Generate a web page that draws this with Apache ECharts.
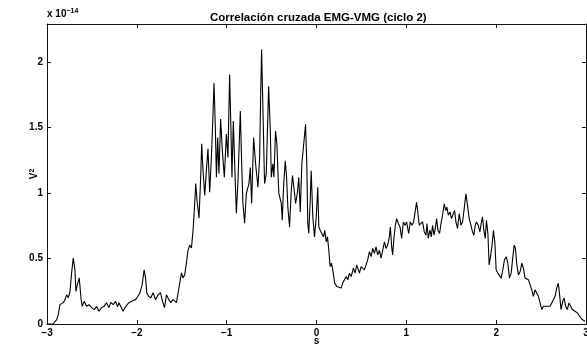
<!DOCTYPE html>
<html>
<head>
<meta charset="utf-8">
<script src="https://cdn.jsdelivr.net/npm/echarts@6/dist/echarts.min.js"></script>
<style>html,body{margin:0;padding:0;background:#fff}#c{width:587px;height:346px}</style>
</head>
<body>
<div id="c"></div>
<script>
// values in units of 1e-14 V^2, x in seconds
var xTicks = [-3, -2, -1, 0, 1, 2, 3];
var yTicks = [0, 0.5, 1, 1.5, 2];
var segA = [[-3.0,0],[-2.989,0],[-2.933,0],[-2.892,0.034],[-2.874,0.072],[-2.856,0.148],[-2.819,0.163],[-2.800,0.186],[-2.781,0.223],[-2.763,0.20],[-2.744,0.248],
  [-2.726,0.39],[-2.708,0.504],[-2.689,0.413],[-2.678,0.248],[-2.663,0.299],[-2.641,0.352],[-2.622,0.20],[-2.608,0.135],[-2.586,0.173],[-2.559,0.135],
  [-2.533,0.148],[-2.503,0.125],[-2.474,0.11],[-2.448,0.133],[-2.422,0.097],[-2.392,0.125],[-2.363,0.135],[-2.337,0.163],[-2.311,0.125],[-2.289,0.165],
  [-2.263,0.148],[-2.237,0.173],[-2.214,0.133],[-2.200,0.163],[-2.178,0.173],[-2.152,0.097],[-2.133,0.125],[-2.114,0.14],[-2.089,0.163],[-2.067,0.148],
  [-2.041,0.18],[-2.014,0.186],[-1.992,0.208],[-1.967,0.236],[-1.941,0.299],[-1.919,0.413],[-1.903,0.352],[-1.889,0.236],[-1.867,0.21],[-1.844,0.20],
  [-1.819,0.239],[-1.792,0.186],[-1.763,0.223]];
var segB = [[-1.737,0.239],[-1.714,0.173],[-1.692,0.125],[-1.670,0.223],[-1.644,0.186],[-1.622,0.163],[-1.597,0.186],[-1.559,0.163],[-1.537,0.173],[-1.522,0.314],
  [-1.503,0.39],[-1.486,0.352],[-1.467,0.375],[-1.448,0.466],[-1.430,0.564],[-1.411,0.602],[-1.392,0.58],[-1.374,0.716],[-1.356,0.92],[-1.344,1.072],
  [-1.330,0.943],[-1.308,0.807],[-1.289,1.12],[-1.278,1.375],[-1.263,1.17],[-1.244,0.981],[-1.226,1.17],[-1.208,1.337],[-1.189,1.006],[-1.170,1.271],
  [-1.152,1.602],[-1.141,1.84],[-1.126,1.498],[-1.114,1.12],[-1.100,1.423],[-1.086,1.148],[-1.067,1.564],[-1.048,1.322],[-1.026,1.12],[-1.003,1.451],
  [-0.986,1.271],[-0.967,1.905],[-0.952,1.473],[-0.941,1.12],[-0.926,1.549],[-0.911,1.223],[-0.892,0.845],[-0.874,1.095],[-0.848,1.625],[-0.833,1.223],
  [-0.819,0.92],[-0.800,0.769],[-0.781,0.996],[-0.752,1.072],[-0.737,1.195],[-0.722,0.92],[-0.700,1.423],[-0.678,1.223],[-0.652,1.044],[-0.633,1.271],
  [-0.622,1.726],[-0.611,2.095]];
var segC = [[-0.578,1.072],[-0.559,1.148],[-0.533,1.814],[-0.514,1.473],[-0.503,1.12],[-0.486,1.223],[-0.474,1.12],[-0.456,1.473],[-0.441,1.375],[-0.430,1.17],
  [-0.419,0.996],[-0.403,0.996],[-0.392,0.92],[-0.381,0.792],[-0.367,1.044],[-0.348,1.246],[-0.333,1.12],[-0.319,0.892],[-0.300,0.741],[-0.281,1.019],
  [-0.267,1.133],[-0.248,1.019],[-0.233,0.92],[-0.214,0.996],[-0.197,1.12],[-0.181,0.855],[-0.163,1.223],[-0.141,1.223],[-0.122,1.524],[-0.108,1.223],
  [-0.097,0.767],[-0.086,0.693],[-0.070,0.943],[-0.059,1.17],[-0.041,0.817],[-0.022,0.665],[-0.003,0.817],[0.014,1.044],[0.026,0.741],[0.041,0.716],
  [0.063,0.729],[0.078,0.665],[0.092,0.716],[0.108,0.627],[0.122,0.665],[0.137,0.564],[0.152,0.438],[0.167,0.464],[0.181,0.413],[0.203,0.312],
  [0.226,0.286],[0.248,0.299],[0.274,0.274],[0.292,0.312],[0.311,0.337],[0.330,0.362],[0.348,0.337],[0.367,0.388],[0.386,0.362],[0.411,0.426],
  [0.430,0.388],[0.448,0.451]];
var segD = [[0.478,0.388],[0.497,0.438],[0.514,0.451],[0.533,0.413],[0.552,0.426],[0.570,0.489],[0.589,0.552],[0.608,0.514],[0.626,0.577],[0.644,0.539],
  [0.663,0.589],[0.681,0.527],[0.700,0.564],[0.719,0.502],[0.737,0.564],[0.756,0.627],[0.774,0.577],[0.792,0.602],[0.811,0.665],[0.822,0.741],
  [0.837,0.589],[0.848,0.527],[0.863,0.665],[0.878,0.754],[0.892,0.804],[0.911,0.767],[0.930,0.741],[0.948,0.653],[0.967,0.779],[0.986,0.754],
  [1.003,0.779],[1.026,0.691],[1.044,0.779],[1.063,0.754],[1.081,0.779],[1.100,0.792],[1.114,0.93],[1.130,0.842],[1.144,0.754],[1.163,0.741],
  [1.181,0.779],[1.200,0.703],[1.219,0.678],[1.230,0.767],[1.244,0.653],[1.263,0.716],[1.278,0.665],[1.292,0.754],[1.308,0.678],[1.322,0.729],
  [1.337,0.804],[1.352,0.716],[1.370,0.691],[1.386,0.767],[1.403,0.83],[1.422,0.918],[1.437,0.867],[1.452,0.892],[1.467,0.83],[1.486,0.855],
  [1.503,0.804],[1.522,0.792],[1.537,0.867],[1.552,0.779],[1.570,0.729],[1.589,0.842],[1.608,0.754],[1.626,0.779],[1.644,0.88],[1.663,0.994],
  [1.681,0.905]];
var segE = [[1.700,0.804],[1.719,0.754],[1.737,0.703],[1.752,0.678],[1.767,0.754],[1.781,0.779],[1.800,0.754],[1.819,0.703],[1.833,0.767],[1.848,0.817],
  [1.863,0.716],[1.878,0.653],[1.892,0.792],[1.908,0.691],[1.922,0.451],[1.937,0.514],[1.952,0.589],[1.970,0.716],[1.986,0.615],[2.000,0.413],
  [2.019,0.388],[2.037,0.40],[2.056,0.35],[2.074,0.413],[2.092,0.489],[2.111,0.514],[2.130,0.464],[2.148,0.35],[2.167,0.388],[2.186,0.514],
  [2.200,0.602],[2.214,0.577],[2.230,0.451],[2.248,0.375],[2.267,0.40],[2.286,0.464],[2.303,0.426],[2.322,0.35],[2.341,0.35],[2.359,0.337],
  [2.378,0.324],[2.397,0.261],[2.414,0.211],[2.433,0.261],[2.452,0.274],[2.470,0.211],[2.489,0.161],[2.508,0.11],[2.526,0.135],[2.544,0.148],
  [2.563,0.135],[2.581,0.123],[2.600,0.135],[2.619,0.161],[2.637,0.173],[2.656,0.211],[2.674,0.274],[2.692,0.312],[2.708,0.211],[2.722,0.11],
  [2.741,0.173],[2.756,0.199],[2.774,0.135],[2.792,0.11],[2.811,0.161],[2.830,0.148],[2.848,0.11],[2.878,0.097],[2.903,0.085],[2.930,0.059],
  [2.959,0.034],[2.989,0.021]];
var titleText = 'Correlación cruzada EMG-VMG (ciclo 2)';
var trace = segA.concat(segB, segC, segD, segE);

var font = 'Liberation Sans, Arial, sans-serif';
var chart = echarts.init(document.getElementById('c'), null, {renderer: 'canvas'});
var lineCol = '#111';
function fmtNum(v) { return String(v).replace('-', '\u2212'); }
var tickInside = {show: true, inside: true, length: 4, lineStyle: {color: lineCol, width: 1}};
var axLine = {show: true, onZero: false, lineStyle: {color: lineCol, width: 1}};
var lbl = {fontFamily: font, fontSize: 10, fontWeight: 'bold', color: '#000', margin: 4};
chart.setOption({
  animation: false,
  backgroundColor: '#fff',
  title: {
    text: titleText, left: 205, top: 7,
    textStyle: {fontFamily: font, fontSize: 11.5, fontWeight: 'bold', color: '#000'}
  },
  graphic: [{
    type: 'text', left: 47, top: 8,
    style: {
      text: 'x 10{s|\u221214}', fontFamily: font, fontSize: 10, fontWeight: 'bold', fill: '#000',
      rich: {s: {fontSize: 7, fontWeight: 'bold', verticalAlign: 'top', padding: [0, 0, 5, 0], fontFamily: font}}
    }
  }],
  grid: {left: 47, top: 24, width: 539, height: 300, containLabel: false, outerBoundsMode: 'none'},
  xAxis: [{
    type: 'value', min: -3, max: 3, interval: 1, position: 'bottom',
    name: 's', nameLocation: 'middle', nameGap: 12, nameMoveOverlap: false,
    nameTextStyle: {fontFamily: font, fontSize: 10, fontWeight: 'bold', color: '#000'},
    axisLine: axLine, axisTick: tickInside,
    axisLabel: Object.assign({formatter: fmtNum}, lbl),
    splitLine: {show: false}
  }, {
    type: 'value', min: -3, max: 3, interval: 1, position: 'top',
    axisLine: axLine, axisTick: tickInside, axisLabel: {show: false}, splitLine: {show: false}
  }],
  yAxis: [{
    type: 'value', min: 0, max: 2.29, interval: 0.5, position: 'left',
    name: 'V{s|2}', nameLocation: 'middle', nameGap: 8, nameRotate: 90, nameMoveOverlap: false,
    nameTextStyle: {fontFamily: font, fontSize: 10, fontWeight: 'bold', color: '#000',
      rich: {s: {fontSize: 7, fontWeight: 'bold', verticalAlign: 'top', fontFamily: font}}},
    axisLine: axLine, axisTick: tickInside,
    axisLabel: Object.assign({showMaxLabel: false}, lbl),
    splitLine: {show: false}
  }, {
    type: 'value', min: 0, max: 2.29, interval: 0.5, position: 'right',
    axisLine: axLine, axisTick: tickInside, axisLabel: {show: false}, splitLine: {show: false}
  }],
  series: [{
    type: 'line', data: trace, showSymbol: false, symbol: 'none',
    lineStyle: {color: '#000', width: 1.1}, clip: true
  }]
});
</script>
</body>
</html>
